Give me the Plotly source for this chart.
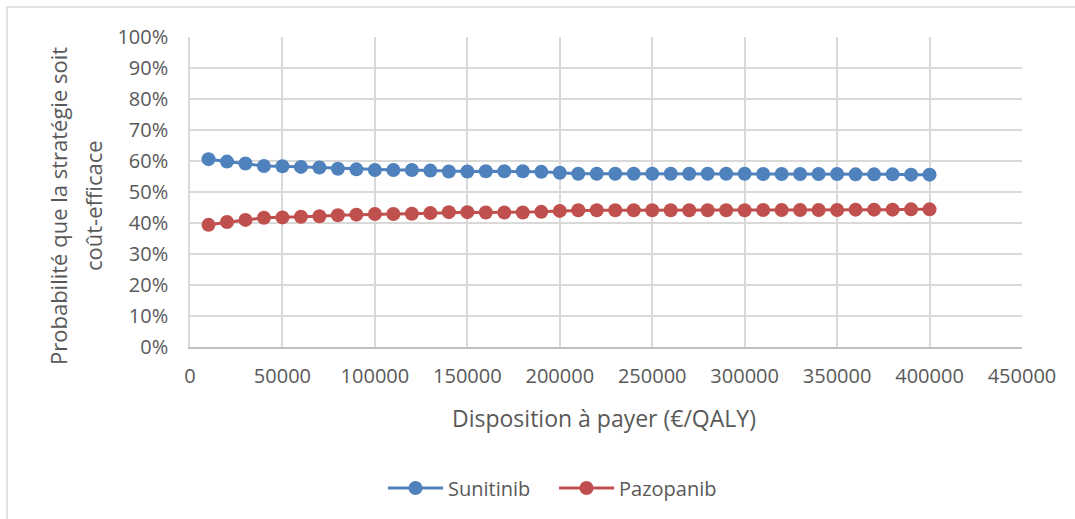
import plotly.graph_objects as go

wtp = [10000, 20000, 30000, 40000, 50000, 60000, 70000, 80000, 90000, 100000,
       110000, 120000, 130000, 140000, 150000, 160000, 170000, 180000, 190000, 200000,
       210000, 220000, 230000, 240000, 250000, 260000, 270000, 280000, 290000, 300000,
       310000, 320000, 330000, 340000, 350000, 360000, 370000, 380000, 390000, 400000]

sunitinib = [0.606, 0.598, 0.592, 0.584, 0.583, 0.581, 0.579, 0.575, 0.573, 0.571,
             0.571, 0.571, 0.569, 0.566, 0.566, 0.567, 0.567, 0.567, 0.565, 0.562,
             0.559, 0.559, 0.559, 0.559, 0.559, 0.559, 0.559, 0.559, 0.559, 0.559,
             0.558, 0.558, 0.558, 0.558, 0.558, 0.557, 0.557, 0.557, 0.556, 0.556]

pazopanib = [0.394, 0.403, 0.410, 0.417, 0.418, 0.420, 0.422, 0.425, 0.427, 0.429,
             0.429, 0.430, 0.432, 0.435, 0.435, 0.434, 0.434, 0.434, 0.436, 0.439,
             0.441, 0.441, 0.441, 0.441, 0.441, 0.441, 0.441, 0.441, 0.441, 0.441,
             0.442, 0.442, 0.442, 0.442, 0.442, 0.443, 0.443, 0.443, 0.444, 0.444]

x_ticks = [0, 50000, 100000, 150000, 200000, 250000, 300000, 350000, 400000, 450000]
y_ticks = [0, 0.1, 0.2, 0.3, 0.4, 0.5, 0.6, 0.7, 0.8, 0.9, 1.0]

FONT = "Open Sans"
TXT = "#595959"
GRID = "#D9D9D9"

W, H = 1075, 519
L, R, T, B = 190, 1022, 37, 347

def px2x(px):
    return (px - L) / (R - L)

def py2y(py):
    return (B - py) / (B - T)

fig = go.Figure()
fig.add_trace(go.Scatter(x=wtp, y=sunitinib, name="Sunitinib", mode="lines+markers",
                         line=dict(color="#4F81BD", width=3),
                         marker=dict(size=14, color="#4F81BD")))
fig.add_trace(go.Scatter(x=wtp, y=pazopanib, name="Pazopanib", mode="lines+markers",
                         line=dict(color="#C0504D", width=3),
                         marker=dict(size=14, color="#C0504D")))

fig.update_layout(
    width=W, height=H,
    margin=dict(l=L, r=W - R, t=T, b=H - B, pad=0),
    paper_bgcolor="white", plot_bgcolor="white",
    font=dict(family=FONT, size=20, color=TXT),
    showlegend=True,
    legend=dict(orientation="h", x=px2x(554), y=py2y(488), xanchor="center", yanchor="middle",
                font=dict(size=20, color=TXT), itemwidth=55, entrywidth=101,
                entrywidthmode="pixels", bgcolor="rgba(0,0,0,0)"),
    xaxis=dict(range=[0, 450000], tickvals=x_ticks, tickformat="d",
               showgrid=True, gridcolor=GRID, gridwidth=1.5,
               showline=True, linecolor="#BFBFBF", linewidth=1.5,
               zeroline=False, ticks="", ticklabelstandoff=10,
               tickfont=dict(size=20, color=TXT)),
    yaxis=dict(range=[0, 1], tickvals=y_ticks, tickformat=".0%",
               showgrid=True, gridcolor=GRID, gridwidth=1.5,
               showline=True, linecolor=GRID, linewidth=1.5,
               zeroline=False, ticks="", ticklabelstandoff=16,
               tickfont=dict(size=20, color=TXT)),
    annotations=[
        dict(text="Disposition à payer (€/QALY)", x=px2x(604), y=py2y(418),
             xref="paper", yref="paper", showarrow=False, xanchor="center", yanchor="middle",
             font=dict(size=23, color=TXT)),
        dict(text="Probabilité que la stratégie soit", x=px2x(58), y=py2y(206),
             xref="paper", yref="paper", showarrow=False, xanchor="center", yanchor="middle",
             textangle=-90, font=dict(size=22, color=TXT)),
        dict(text="coût-efficace", x=px2x(93), y=py2y(206),
             xref="paper", yref="paper", showarrow=False, xanchor="center", yanchor="middle",
             textangle=-90, font=dict(size=22, color=TXT)),
    ],
    shapes=[
        dict(type="rect", xref="paper", yref="paper",
             x0=px2x(7), x1=px2x(1085), y0=py2y(530), y1=py2y(7),
             line=dict(color=GRID, width=1.5), fillcolor="rgba(0,0,0,0)", layer="below"),
    ],
)

fig.write_html("out.html", config={"displayModeBar": False},
               post_script="document.body.style.margin='0';document.body.style.overflow='hidden';")
